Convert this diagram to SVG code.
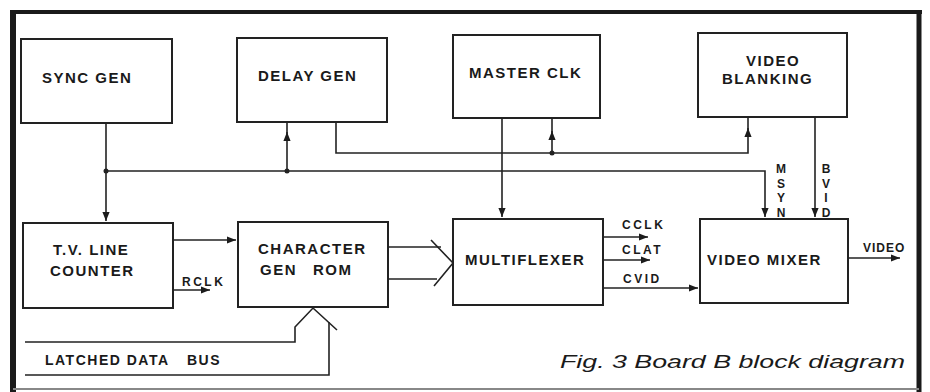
<svg xmlns="http://www.w3.org/2000/svg" width="930" height="392" viewBox="0 0 930 392">
<defs>
<marker id="ah" viewBox="0 0 10 10" refX="10" refY="5" markerWidth="9" markerHeight="9" markerUnits="userSpaceOnUse" orient="auto">
<path d="M0,1 L10,5 L0,9 Z" fill="#1c1c1c"/>
</marker>
</defs>
<style>
.box{fill:none;stroke:#222;stroke-width:2}
.ln{fill:none;stroke:#222;stroke-width:1.6}
.lbl{font-family:"Liberation Sans",Arial,sans-serif;font-weight:bold;font-size:15px;letter-spacing:1.5px;fill:#1a1a1a}
.sm{font-family:"Liberation Sans",Arial,sans-serif;font-weight:bold;font-size:12px;letter-spacing:2.5px;fill:#1a1a1a}
.vt{font-family:"Liberation Sans",Arial,sans-serif;font-weight:bold;font-size:12px;fill:#1a1a1a;writing-mode:vertical-rl;text-orientation:upright;letter-spacing:0.5px}
.bus{font-family:"Liberation Sans",Arial,sans-serif;font-weight:bold;font-size:14px;letter-spacing:1.5px;fill:#1a1a1a}
.cap{font-family:"Liberation Sans",Arial,sans-serif;font-style:italic;font-size:19px;fill:#1a1a1a}
.dot{fill:#222}
</style>
<rect width="930" height="392" fill="#fff"/>
<g id="frame">
<line x1="10" y1="12" x2="922" y2="12" stroke="#1a1a1a" stroke-width="4"/>
<line x1="13" y1="10" x2="13" y2="392" stroke="#1a1a1a" stroke-width="6"/>
<line x1="919" y1="10" x2="919" y2="392" stroke="#1a1a1a" stroke-width="5"/>
<line x1="13" y1="389" x2="919" y2="389" stroke="#888" stroke-width="2"/>
</g>
<g id="sync-gen"><rect class="box" x="21" y="39" width="151" height="84"/><text class="lbl" x="42" y="83">SYNC GEN</text></g>
<g id="delay-gen"><rect class="box" x="237" y="38" width="150" height="84"/><text class="lbl" x="258" y="81">DELAY GEN</text></g>
<g id="master-clk"><rect class="box" x="453" y="35" width="147" height="83"/><text class="lbl" x="469" y="78">MASTER CLK</text></g>
<g id="video-blanking"><rect class="box" x="698" y="33" width="149" height="84"/><text class="lbl" x="746" y="66">VIDEO</text><text class="lbl" x="722" y="84">BLANKING</text></g>
<g id="tv-line-counter"><rect class="box" x="23" y="223" width="150" height="85"/><text class="lbl" x="53" y="255">T.V. LINE</text><text class="lbl" x="50" y="276">COUNTER</text></g>
<g id="character-gen-rom"><rect class="box" x="238" y="222" width="150" height="85"/><text class="lbl" x="258" y="254">CHARACTER</text><text class="lbl" x="260" y="275">GEN</text><text class="lbl" x="313" y="275">ROM</text></g>
<g id="multiflexer"><rect class="box" x="453" y="219" width="150" height="86"/><text class="lbl" x="465" y="265">MULTIFLEXER</text></g>
<g id="video-mixer"><rect class="box" x="700" y="219" width="148" height="84"/><text class="lbl" x="707" y="265">VIDEO MIXER</text></g>
<g id="connectors">
<path class="ln" d="M106,123 V221" marker-end="url(#ah)"/>
<path class="ln" d="M106,171 H765 V217" marker-end="url(#ah)"/>
<circle class="dot" cx="106" cy="171" r="2.5"/>
<path class="ln" d="M287,171 V132" marker-end="url(#ah)"/>
<path class="ln" d="M287,134 V122"/>
<circle class="dot" cx="287" cy="171" r="2.5"/>
<path class="ln" d="M336,122 V153 H748 V128" marker-end="url(#ah)"/>
<path class="ln" d="M748,130 V117"/>
<path class="ln" d="M552,153 V131" marker-end="url(#ah)"/>
<path class="ln" d="M552,133 V118"/>
<circle class="dot" cx="552" cy="153" r="2.5"/>
<path class="ln" d="M502,118 V217" marker-end="url(#ah)"/>
<path class="ln" d="M815,117 V217" marker-end="url(#ah)"/>
<path class="ln" d="M173,240 H236" marker-end="url(#ah)"/>
<path class="ln" d="M173,290 H210" marker-end="url(#ah)"/>
<path class="ln" d="M388,247 H441"/>
<path class="ln" d="M388,279 H437"/>
<path class="ln" d="M431,240 L453,263 L434,286"/>
<path class="ln" d="M25,342 H295 V327 L313,308 L337,330"/>
<path class="ln" d="M25,375 H329 V322"/>
<path class="ln" d="M603,237 H648" marker-end="url(#ah)"/>
<path class="ln" d="M603,260 H650" marker-end="url(#ah)"/>
<path class="ln" d="M603,288 H698" marker-end="url(#ah)"/>
<path class="ln" d="M848,258 H900" marker-end="url(#ah)"/>
</g>
<g id="labels">
<text class="sm" x="182" y="286">RCLK</text>
<text class="sm" x="622" y="229">CCLK</text>
<text class="sm" x="622" y="254">CLAT</text>
<text class="sm" x="623" y="283">CVID</text>
<text class="sm" x="863" y="252" style="letter-spacing:1px">VIDEO</text>
<text class="vt" x="781" y="162">MSYN</text>
<text class="vt" x="826" y="162">BVID</text>
<text class="bus" x="45" y="365">LATCHED DATA</text>
<text class="bus" x="187" y="365">BUS</text>
<text class="cap" x="560" y="368" textLength="345" lengthAdjust="spacingAndGlyphs">Fig. 3 Board B block diagram</text>
</g>
</svg>
